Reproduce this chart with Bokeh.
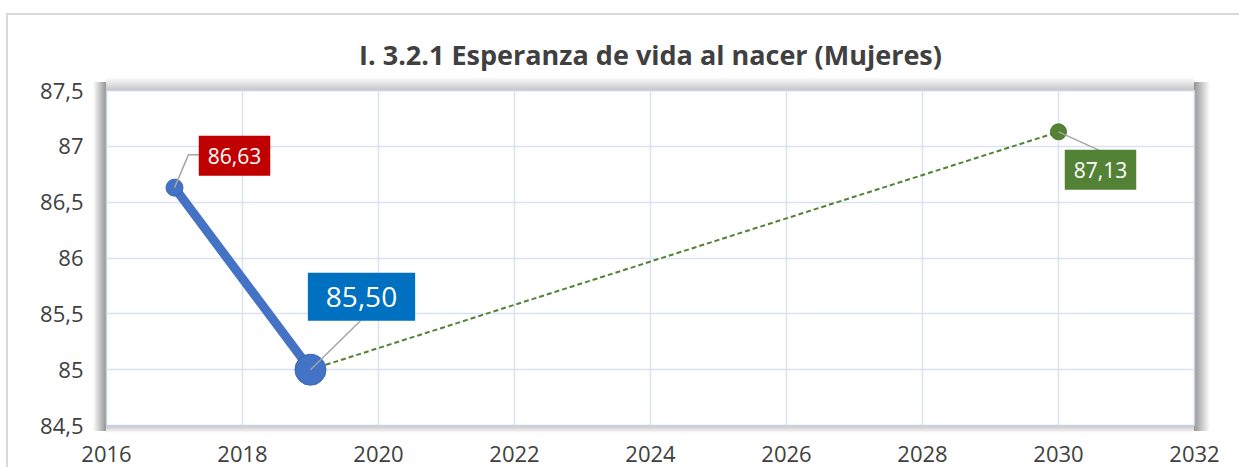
from bokeh.plotting import figure
from bokeh.models import Label, FixedTicker, CustomJSTickFormatter, Range1d
from bokeh.embed import file_html
from bokeh.resources import INLINE

# ---- data ----
title_text = "I. 3.2.1 Esperanza de vida al nacer (Mujeres)"
years_hist = [2017, 2019]
values_hist = [86.63, 85.0]
years_proj = [2019, 2030]
values_proj = [85.0, 87.13]
label_years = [2017, 2019, 2030]
label_values = [86.63, 85.0, 87.13]
label_texts = ["86,63", "85,50", "87,13"]
x_ticks = [2016, 2018, 2020, 2022, 2024, 2026, 2028, 2030, 2032]
y_ticks = [84.5, 85.0, 85.5, 86.0, 86.5, 87.0, 87.5]

# ---- layout constants ----
W, H = 1239, 467
ML, MR, MT, MB = 106, 45, 90, 42
FW, FH = W - ML - MR, H - MT - MB
X0, X1, Y0, Y1 = 2016, 2032, 84.5, 87.5
PXX = FW / (X1 - X0)
PXY = FH / (Y1 - Y0)

FONT = "Open Sans"
TXT = "#404040"

# shadow around the plot area and outer chart border, painted as CSS backgrounds
# behind a transparent border area
R = ML + FW  # right edge of plot area
B = MT + FH  # bottom edge of plot area
layers = [
    ("linear-gradient(to left, rgba(0,0,0,0.42), rgba(0,0,0,0))", f"{ML-13}px {MT-8}px", f"13px {FH+14}px"),
    ("linear-gradient(to right, rgba(0,0,0,0.42), rgba(0,0,0,0))", f"{R}px {MT-8}px", f"16px {FH+14}px"),
    ("linear-gradient(to top, rgba(0,0,0,0.22), rgba(0,0,0,0))", f"{ML}px {MT-13}px", f"{FW}px 13px"),
    ("linear-gradient(to bottom, rgba(0,0,0,0.25), rgba(0,0,0,0))", f"{ML}px {B}px", f"{FW}px 8px"),
    ("linear-gradient(#D9D9D9, #D9D9D9)", "6px 13px", "2px 470px"),
    ("linear-gradient(#D9D9D9, #D9D9D9)", "6px 13px", "1250px 2px"),
]
styles = {
    "background-color": "white",
    "background-image": ", ".join(l[0] for l in layers),
    "background-position": ", ".join(l[1] for l in layers),
    "background-size": ", ".join(l[2] for l in layers),
    "background-repeat": "no-repeat",
}

p = figure(width=W, height=H, output_backend="svg", toolbar_location=None,
           x_range=Range1d(X0, X1), y_range=Range1d(Y0, Y1),
           min_border_left=ML, min_border_right=MR, min_border_top=MT, min_border_bottom=MB,
           background_fill_color="white", border_fill_color=None, styles=styles)

p.title.text = title_text
p.title.align = "center"
p.title.text_font = FONT
p.title.text_font_size = "27px"
p.title.text_font_style = "bold"
p.title.text_color = TXT
p.title.standoff = 36

p.outline_line_color = "#C9D3E8"
p.outline_line_width = 1.5

for ax in (p.xaxis[0], p.yaxis[0]):
    ax.axis_line_color = None
    ax.major_tick_line_color = None
    ax.minor_tick_line_color = None
    ax.major_tick_out = 0
    ax.major_tick_in = 0
    ax.major_label_text_font = FONT
    ax.major_label_text_font_size = "22px"
    ax.major_label_text_color = TXT

p.xaxis[0].ticker = FixedTicker(ticks=x_ticks)
p.yaxis[0].ticker = FixedTicker(ticks=y_ticks)
p.xaxis[0].major_label_standoff = 20
p.yaxis[0].major_label_standoff = 23
p.yaxis[0].formatter = CustomJSTickFormatter(code="return String(tick).replace('.', ',');")

p.xgrid[0].ticker = FixedTicker(ticks=x_ticks)
p.ygrid[0].ticker = FixedTicker(ticks=y_ticks)
for g in (p.xgrid[0], p.ygrid[0]):
    g.grid_line_color = "#D9E1F2"
    g.grid_line_width = 1.5

# lines
p.line(years_hist, values_hist, line_color="#4472C4", line_width=9, line_cap="round")
p.line(years_proj, values_proj, line_color="#548235", line_width=2, line_dash="5 3")

# markers
p.scatter([years_hist[0]], [values_hist[0]], size=17, fill_color="#4472C4", line_color="#3B65B5")
p.scatter([years_hist[1]], [values_hist[1]], size=31, fill_color="#4472C4", line_color="#3B65B5")
p.scatter([years_proj[1]], [values_proj[1]], size=16, fill_color="#548235", line_color="#4A7530")

def px(x, y, dx, dy):
    return x + dx / PXX, y - dy / PXY

# leader lines (pixel offsets from each point)
leaders = [
    [(0, 0), (14, -33), (25, -33)],
    [(0, 0), (50, -49)],
    [(0, 0), (42, 19)],
]
for (lx, ly), pts in zip(zip(label_years, label_values), leaders):
    xs = [px(lx, ly, dx, dy)[0] for dx, dy in pts]
    ys = [px(lx, ly, dx, dy)[1] for dx, dy in pts]
    p.line(xs, ys, line_color="#A6A6A6", line_width=1.5)

# data labels
label_cfg = [
    (60, -32, "#C00000", "21px", (9, 12)),
    (51, -73, "#0070C0", "28px", (18, 14)),
    (42, 38, "#538135", "21px", (9, 12)),
]
for lx, ly, txt, (dx, dy, col, fs, pad) in zip(label_years, label_values, label_texts, label_cfg):
    cx, cy = px(lx, ly, dx, dy)
    p.add_layout(Label(x=cx, y=cy, text=txt, text_align="center", text_baseline="middle",
                       text_font=FONT, text_font_size=fs, text_color="white",
                       background_fill_color=col, padding=pad))

open("out.html", "w").write(file_html(p, INLINE))
